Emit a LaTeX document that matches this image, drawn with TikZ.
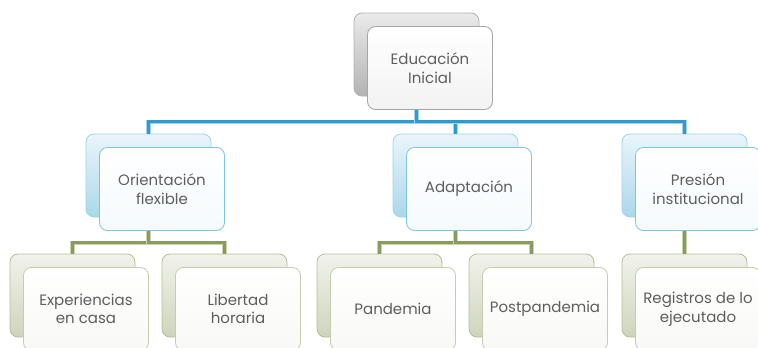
\documentclass[tikz,border=0pt]{standalone}
\usepackage{fontspec}
\setmainfont{Poppins}
\usetikzlibrary{shadows, trees}
\definecolor{textgray}{HTML}{5E5E5E}
\definecolor{linkblue}{HTML}{2B9CCD}
\definecolor{linkblueedge}{HTML}{A3D5EB}
\definecolor{linkgreen}{HTML}{8B9A5E}
\definecolor{linkgreenedge}{HTML}{CAD3AD}
\tikzset{
	box/.style={rounded corners=8pt, minimum width=125pt, minimum height=83pt, inner sep=2pt, line width=0.8pt},
	greybox/.style={box, draw=black!35, top color=white, bottom color=black!5,
		general shadow={shadow xshift=-13.5pt, shadow yshift=13.5pt, draw=black!30, top color=black!8, bottom color=black!30}},
	bluebox/.style={box, draw=linkblue!60, top color=white, bottom color=linkblue!5,
		general shadow={shadow xshift=-13.5pt, shadow yshift=13.5pt, draw=linkblue!45, top color=linkblue!10, bottom color=linkblue!40}},
	greenbox/.style={box, draw=linkgreen!50, top color=white, bottom color=linkgreen!6,
		general shadow={shadow xshift=-13.5pt, shadow yshift=13.5pt, draw=linkgreen!65, top color=linkgreen!12, bottom color=linkgreen!42}},
	bluelink/.style={draw=linkblueedge, line width=0.7pt, double=linkblue, double distance=3pt},
	greenlink/.style={draw=linkgreenedge, line width=0.7pt, double=linkgreen, double distance=3pt}
}

\begin{document}
\begin{tikzpicture}[x=1pt, y=1pt, grow=down,
	every node/.style={font=\fontsize{15}{18.5}\selectfont, text=textgray, align=center},
	level 1/.style={sibling distance=268pt, level distance=121pt, edge from parent/.style={bluelink}},
	level 2/.style={sibling distance=152pt, level distance=120pt, edge from parent/.style={greenlink}},
	edge from parent path={([xshift=-13.5pt]\tikzparentnode.south) -- ++(0,-12pt) -| ([xshift=-13.5pt, yshift=13.5pt]\tikzchildnode.north)}]
	\useasboundingbox (0,0) rectangle (758,-348);
	\node[greybox] (edu) at (430,-68) {Educación\\Inicial}
	child{
		node[bluebox] (orient) {Orientación\\flexible}
		child{
			node[greenbox] (exper) {Experiencias\\en casa}
		}
		child{
			node[greenbox] (libert) {Libertad\\horaria}
		}
	}
	child[xshift=39pt]{
		node[bluebox] (adapt) {Adaptación}
		child{
			node[greenbox] (pand) {Pandemia}
		}
		child{
			node[greenbox] (postp) {Postpandemia}
		}
	}
	child{
		node[bluebox] (presion) {Presión\\institucional}
		child{
			node[greenbox] (regist) {Registros de lo\\ejecutado}
		}
	};
\end{tikzpicture}
\end{document}
